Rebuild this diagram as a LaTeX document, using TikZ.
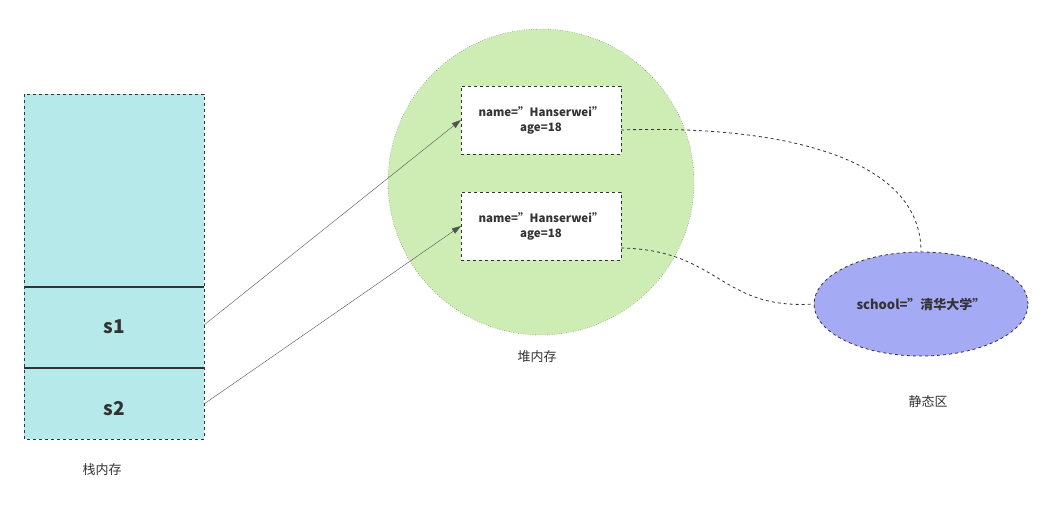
\documentclass[tikz,border=0pt]{standalone}
\usepackage{fontspec}
\setmainfont{Noto Sans CJK SC}
\usetikzlibrary{shapes.geometric,arrows.meta}
\definecolor{stackfill}{HTML}{B6E9EA}
\definecolor{heapfill}{HTML}{CDEDB5}
\definecolor{staticfill}{HTML}{A4AAF4}
\definecolor{inkc}{HTML}{333333}
\tikzset{
  objbox/.style={draw=inkc,dashed,fill=white,minimum width=160pt,minimum height=68pt,
    font=\bfseries\fontsize{11.5}{15}\selectfont,align=center,text=inkc},
  caption/.style={font=\fontsize{13}{15}\selectfont,text=inkc},
  refline/.style={draw=inkc!85,-{Triangle[length=9pt,width=6pt]}},
  link/.style={draw=inkc,dashed,thick}
}
\begin{document}
\begin{tikzpicture}[x=1pt,y=-1pt]
  \useasboundingbox (0,0) rectangle (1054,515);
  % stack
  \draw[fill=stackfill,draw=inkc,dashed] (24,94) rectangle (204,439);
  \draw[very thick,inkc] (24,287) -- (204,287);
  \draw[very thick,inkc] (24,368) -- (204,368);
  \node[font=\bfseries\fontsize{19}{21}\selectfont,text=inkc] (s1) at (114,327) {s1};
  \node[font=\bfseries\fontsize{19}{21}\selectfont,text=inkc] (s2) at (114,409) {s2};
  \coordinate (s1r) at (204,325);
  \coordinate (s2r) at (204,404);
  \node[caption] (stacklbl) at (102,470) {栈内存};
  % heap
  \node[circle,draw=inkc,dotted,fill=heapfill,minimum size=306pt] (heap) at (541,182) {};
  \node[caption] (heaplbl) at (537,357) {堆内存};
  \node[objbox] (obj1) at (541,120) {name="Hanserwei"\\age=18};
  \node[objbox] (obj2) at (541,226) {name="Hanserwei"\\age=18};
  % static
  \node[ellipse,draw=inkc,dashed,thick,fill=staticfill,minimum width=214pt,minimum height=104pt,
    font=\bfseries\fontsize{13}{15}\selectfont,text=inkc] (school) at (921,304) {school="清华大学"};
  \node[caption] (staticlbl) at (928,402) {静态区};
  % references
  \draw[refline] (s1r) -- (obj1.west);
  \draw[refline] (s2r) -- (obj2.west);
  \draw[link] (obj1.east |- 0,130) .. controls (760,125) and (921,150) .. (school.north);
  \draw[link] (obj2.east |- 0,248) .. controls (720,250) and (720,310) .. (school.west);
\end{tikzpicture}
\end{document}
